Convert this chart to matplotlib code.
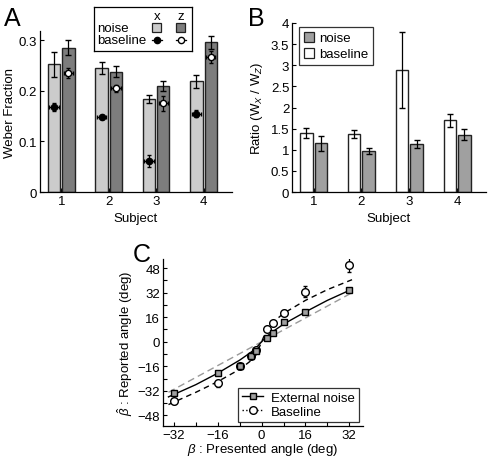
import matplotlib
matplotlib.use("Agg")
import matplotlib.pyplot as plt
from matplotlib.lines import Line2D
from matplotlib.patches import Rectangle, Patch
import numpy as np

plt.rcParams['font.family'] = ['Liberation Sans', 'DejaVu Sans']
plt.rcParams['mathtext.fontset'] = 'custom'
plt.rcParams['mathtext.rm'] = 'Liberation Sans'
plt.rcParams['mathtext.it'] = 'Liberation Sans:italic'
plt.rcParams['font.size'] = 9.5

# ---------------- data ----------------
subjects = [1, 2, 3, 4]

# Panel A: Weber fractions
noise_x = [0.252, 0.245, 0.184, 0.219]
noise_x_err = [0.025, 0.012, 0.008, 0.013]
noise_z = [0.285, 0.238, 0.209, 0.296]
noise_z_err = [0.015, 0.010, 0.010, 0.013]
base_x = [0.168, 0.149, 0.061, 0.155]
base_x_err = [0.008, 0.004, 0.012, 0.007]
base_z = [0.235, 0.205, 0.175, 0.266]
base_z_err = [0.010, 0.007, 0.015, 0.012]

# Panel B: ratio Wx / Wz
ratio_base = [1.40, 1.37, 2.88, 1.70]
ratio_base_err = [0.12, 0.10, 0.90, 0.15]
ratio_noise = [1.15, 0.97, 1.13, 1.35]
ratio_noise_err = [0.17, 0.08, 0.09, 0.13]

# Panel C: reported vs presented angle
presented = [-32, -16, -8, -4, -2, 2, 4, 8, 16, 32]
rep_noise = [-33.5, -20.5, -15.7, -9.2, -6.0, 2.6, 5.7, 13.0, 19.5, 33.5]
rep_noise_err = [1.5, 1.5, 1.2, 1.0, 1.0, 1.0, 1.0, 1.2, 1.2, 1.2]
rep_base = [-38.9, -27.2, -15.7, -9.6, -5.5, 8.2, 12.2, 19.0, 32.6, 50.2]
rep_base_err = [1.8, 2.5, 1.2, 1.0, 1.0, 1.5, 1.5, 1.5, 3.5, 5.0]

fit_noise_x = [-34, -24, -16, -8, -4, -2, 0, 2, 4, 8, 16, 24, 32]
fit_noise_y = [-36, -28, -20.5, -12, -7, -4, 0, 3.7, 6.5, 11.5, 19.5, 27, 33.5]
fit_base_x = [-34, -24, -16, -8, -4, -2, 0, 2, 4, 8, 16, 24, 33]
fit_base_y = [-41, -33, -26, -18, -12.5, -8.5, 0, 8.5, 12.5, 18.5, 27, 34, 40.5]
ident_x = [-34, 33]
ident_y = [-33, 32]

W, H = 488, 460
fig = plt.figure(figsize=(W / 100, H / 100), dpi=100)

def fax(l, t, r, b):
    return fig.add_axes([l / W, 1 - b / H, (r - l) / W, (b - t) / H])

def style(ax):
    for s in ['top', 'right']:
        ax.spines[s].set_visible(False)
    ax.tick_params(which='both', direction='in', length=3, width=0.8, pad=2)
    for s in ['left', 'bottom']:
        ax.spines[s].set_linewidth(0.9)

LIGHT = '#cccccc'
DARK = '#7d7d7d'
MID = '#a0a0a0'
EDGE = '#222222'

# ---------------- Panel A ----------------
axA = fax(40, 32, 232, 193)
style(axA)
x = np.array(subjects, dtype=float)
off = 0.15
bw = 0.26
axA.bar(x - off, noise_x, bw, color=LIGHT, edgecolor=EDGE, linewidth=1.0, zorder=2)
axA.bar(x + off, noise_z, bw, color=DARK, edgecolor=EDGE, linewidth=1.0, zorder=2)
axA.errorbar(x - off, noise_x, yerr=noise_x_err, fmt='none', ecolor='black', elinewidth=0.9, capsize=2, zorder=3)
axA.errorbar(x + off, noise_z, yerr=noise_z_err, fmt='none', ecolor='black', elinewidth=0.9, capsize=2, zorder=3)
axA.errorbar(x - off, base_x, yerr=base_x_err, xerr=0.1, fmt='o', ms=4.5, mfc='black', mec='black',
             ecolor='black', elinewidth=0.9, capsize=1.5, zorder=4)
axA.errorbar(x + off, base_z, yerr=base_z_err, xerr=0.1, fmt='o', ms=4.5, mfc='white', mec='black',
             ecolor='black', elinewidth=0.9, capsize=1.5, zorder=4)
axA.set_xlim(0.55, 4.6)
axA.set_ylim(0, 0.318)
axA.set_xticks(subjects)
axA.set_yticks([0, 0.1, 0.2, 0.3])
axA.set_yticklabels(['0', '0.1', '0.2', '0.3'])
axA.set_xlabel('Subject', labelpad=4)
axA.set_ylabel('Weber Fraction', labelpad=2)
fig.text(4 / W, 1 - 7 / H, 'A', fontsize=18, va='top')

# custom legend for A
lg = fax(94, 8, 192, 52)
lg.set_xlim(94, 192)
lg.set_ylim(52, 8)
lg.set_xticks([])
lg.set_yticks([])
for s in lg.spines.values():
    s.set_linewidth(0.9)
lg.text(157, 17, 'x', ha='center', va='center', fontsize=9.5)
lg.text(181, 17, 'z', ha='center', va='center', fontsize=9.5)
lg.text(97, 28.5, 'noise', ha='left', va='center', fontsize=9.5)
lg.text(97, 41.5, 'baseline', ha='left', va='center', fontsize=9.5)
lg.add_patch(Rectangle((152, 24), 9, 9, facecolor=LIGHT, edgecolor=EDGE, lw=0.9))
lg.add_patch(Rectangle((176, 24), 9, 9, facecolor=DARK, edgecolor=EDGE, lw=0.9))
lg.plot([152, 162], [41, 41], color='black', lw=0.9)
lg.plot([157], [41], 'o', ms=4.5, mfc='black', mec='black')
lg.plot([176, 186], [41, 41], color='black', lw=0.9)
lg.plot([181], [41], 'o', ms=4.5, mfc='white', mec='black')

# ---------------- Panel B ----------------
axB = fax(292, 24, 486, 193)
style(axB)
axB.bar(x - off, ratio_base, bw, color='white', edgecolor=EDGE, linewidth=1.0, zorder=2)
axB.bar(x + off, ratio_noise, bw, color=MID, edgecolor=EDGE, linewidth=1.0, zorder=2)
axB.errorbar(x - off, ratio_base, yerr=ratio_base_err, fmt='none', ecolor='black', elinewidth=0.9, capsize=2, zorder=3)
axB.errorbar(x + off, ratio_noise, yerr=ratio_noise_err, fmt='none', ecolor='black', elinewidth=0.9, capsize=2, zorder=3)
axB.set_xlim(0.55, 4.6)
axB.set_ylim(0, 4)
axB.set_xticks(subjects)
axB.set_yticks([0, 0.5, 1, 1.5, 2, 2.5, 3, 3.5, 4])
axB.set_yticklabels(['0', '0.5', '1', '1.5', '2', '2.5', '3', '3.5', '4'])
axB.set_xlabel('Subject', labelpad=4)
axB.set_ylabel('Ratio (W$_X$ / W$_Z$)', labelpad=4)
fig.text(248 / W, 1 - 7 / H, 'B', fontsize=18, va='top')
hB = [Patch(facecolor=MID, edgecolor=EDGE, lw=0.9, label='noise'),
      Patch(facecolor='white', edgecolor=EDGE, lw=0.9, label='baseline')]
legB = axB.legend(handles=hB, loc='upper left', bbox_to_anchor=((299 - 292) / 194, 1 - 4 / 169),
                  frameon=True, fancybox=False, edgecolor='black', handlelength=0.8, handleheight=0.8,
                  handletextpad=0.4, borderpad=0.35, labelspacing=0.25, fontsize=9.5, borderaxespad=0)
legB.get_frame().set_linewidth(0.9)

# ---------------- Panel C ----------------
axC = fax(163, 260, 363, 427)
style(axC)
axC.plot(ident_x, ident_y, linestyle=(0, (5, 3)), color='#999999', lw=1.0, zorder=1)
axC.plot(fit_base_x, fit_base_y, linestyle=(0, (4, 3)), color='black', lw=1.0, zorder=1)
axC.plot(fit_noise_x, fit_noise_y, '-', color='black', lw=1.0, zorder=1)
axC.errorbar(presented, rep_base, yerr=rep_base_err, fmt='o', ms=5.5, mfc='white', mec='black',
             ecolor='black', elinewidth=0.9, capsize=1.5, zorder=3)
axC.errorbar(presented, rep_noise, yerr=rep_noise_err, fmt='s', ms=5, mfc=MID, mec='black',
             ecolor='black', elinewidth=0.9, capsize=1.5, zorder=4)
axC.set_xlim(-36, 37)
axC.set_ylim(-55, 54)
axC.set_xticks([-32, -16, 0, 16, 32])
axC.set_xticks([-24, -8, 8, 24], minor=True)
axC.set_yticks([-48, -32, -16, 0, 16, 32, 48])
axC.set_yticks([-40, -24, -8, 8, 24, 40], minor=True)
axC.set_xlabel(r'$\beta$ : Presented angle (deg)', labelpad=0)
axC.set_ylabel(r'$\hat{\beta}$ : Reported angle (deg)', labelpad=2)
fig.text(133 / W, 1 - 243 / H, 'C', fontsize=18, va='top')
hC = [Line2D([], [], color='black', lw=1.0, marker='s', ms=5, mfc=MID, mec='black', label='External noise'),
      Line2D([], [], color='black', lw=1.0, linestyle=':', marker='o', ms=5.5, mfc='white', mec='black', label='Baseline')]
legC = axC.legend(handles=hC, loc='lower right', bbox_to_anchor=(1 - 4 / 200, 4 / 167),
                  frameon=True, fancybox=False, edgecolor='black', handlelength=1.6,
                  handletextpad=0.6, borderpad=0.3, labelspacing=0.15, fontsize=9.5, borderaxespad=0)
legC.get_frame().set_linewidth(0.9)

fig.savefig('out.png', dpi=100)
